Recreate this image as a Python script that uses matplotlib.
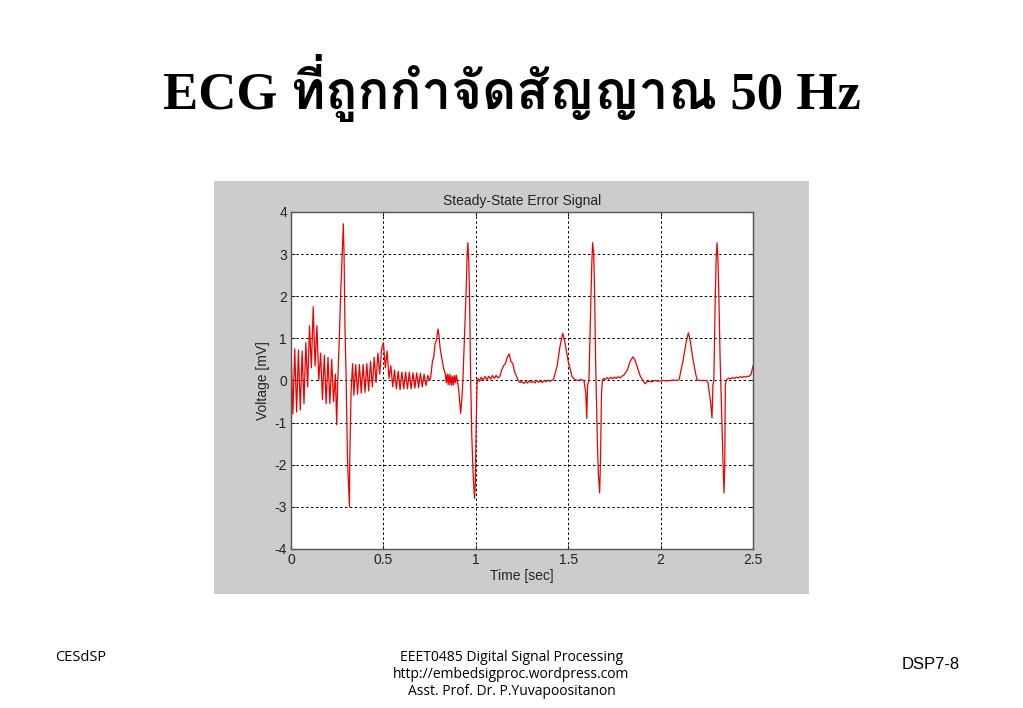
import numpy as np
import matplotlib
matplotlib.use("Agg")
import matplotlib.pyplot as plt
from matplotlib import font_manager
from matplotlib.ft2font import FT2Font
from matplotlib.patches import Rectangle

# ---- data (time in sec, voltage in mV) ----
t_start = [0.00, 0.01, 0.02, 0.03, 0.04, 0.05, 0.06, 0.07, 0.08, 0.09,
           0.10, 0.11, 0.12, 0.13, 0.14, 0.15, 0.16, 0.17, 0.18, 0.19,
           0.20, 0.21, 0.22, 0.23, 0.24, 0.247]
v_start = [0.75, -0.8, 0.75, -0.75, 0.72, -0.7, 0.7, -0.55, 0.9, -0.15,
           1.3, 0.3, 1.75, 0.35, 1.3, 0.0, 0.65, -0.45, 0.6, -0.55,
           0.55, -0.55, 0.5, -0.5, 0.15, -1.05]

t_qrs1 = [0.253, 0.262, 0.268, 0.276, 0.283, 0.287, 0.292, 0.298, 0.305,
          0.316, 0.318, 0.325, 0.333]
v_qrs1 = [0.0, 1.1, 2.0, 2.9, 3.72, 2.95, 1.2, 0.1, -1.8,
          -3.0, -1.8, -0.25, 0.4]

t_mid = [0.34, 0.35, 0.36, 0.37, 0.38, 0.39, 0.40, 0.41, 0.42, 0.43,
         0.44, 0.45, 0.46, 0.47, 0.48, 0.49, 0.50, 0.51, 0.52, 0.53,
         0.54, 0.55, 0.56, 0.57, 0.58, 0.59, 0.60, 0.61, 0.62, 0.63,
         0.64, 0.65, 0.66, 0.67, 0.68, 0.69, 0.70, 0.71, 0.72, 0.73,
         0.74, 0.75]
v_mid = [-0.35, 0.38, -0.33, 0.38, -0.3, 0.38, -0.28, 0.4, -0.25, 0.45,
         -0.15, 0.55, -0.05, 0.65, 0.15, 0.75, 0.9, 0.3, 0.7, 0.05,
         0.35, -0.15, 0.25, -0.2, 0.22, -0.22, 0.2, -0.2, 0.2, -0.2,
         0.2, -0.2, 0.18, -0.18, 0.18, -0.17, 0.17, -0.15, 0.15, -0.12,
         0.12, 0.0]

t_beat2 = [0.755, 0.765, 0.772, 0.78, 0.787, 0.795, 0.80, 0.807, 0.815,
           0.825, 0.835, 0.84, 0.845, 0.85, 0.855, 0.86, 0.865, 0.87,
           0.875, 0.88, 0.885, 0.89, 0.895, 0.90, 0.908, 0.918, 0.925,
           0.93, 0.94, 0.948, 0.953, 0.957, 0.962, 0.966, 0.972, 0.978,
           0.985, 0.993, 0.997, 1.002, 1.007]
v_beat2 = [0.05, 0.45, 0.55, 0.9, 0.95, 1.22, 1.1, 0.75, 0.55,
           0.3, 0.15, -0.05, 0.15, -0.1, 0.15, -0.1, 0.12, -0.12,
           0.1, -0.1, 0.12, -0.05, 0.12, 0.0, -0.25, -0.78, -0.4,
           0.0, 1.2, 2.2, 3.0, 3.27, 2.8, 2.0, 0.0, -1.3,
           -2.2, -2.8, -2.5, -1.0, -0.05]

t_beat3 = [1.012, 1.02, 1.03, 1.04, 1.05, 1.06, 1.07, 1.08, 1.09, 1.10,
           1.11, 1.12, 1.13, 1.14, 1.15, 1.16, 1.17, 1.18, 1.19, 1.20,
           1.21, 1.22, 1.23, 1.24, 1.25, 1.26, 1.27, 1.28, 1.29, 1.30,
           1.31, 1.32, 1.33, 1.34, 1.35, 1.36, 1.37, 1.38, 1.39, 1.40,
           1.41, 1.42, 1.44, 1.455, 1.47, 1.48, 1.50, 1.52, 1.535, 1.55,
           1.57, 1.585, 1.595, 1.60, 1.605, 1.612, 1.62, 1.627, 1.632,
           1.638, 1.643, 1.648, 1.652, 1.658, 1.663, 1.67, 1.675, 1.68,
           1.685]
v_beat3 = [0.05, -0.02, 0.08, 0.0, 0.1, 0.02, 0.1, 0.03, 0.12, 0.05,
           0.12, 0.06, 0.1, 0.25, 0.35, 0.4, 0.55, 0.63, 0.45, 0.4,
           0.2, 0.1, 0.0, -0.05, -0.02, -0.07, -0.02, -0.06, 0.0, -0.05,
           -0.02, -0.06, 0.0, -0.04, -0.01, -0.05, 0.0, -0.03, 0.01, -0.02,
           0.0, 0.02, 0.35, 0.8, 1.12, 0.95, 0.45, 0.1, 0.02, 0.0,
           0.02, 0.0, -0.3, -0.9, -0.1, 0.0, 1.5, 2.7, 3.27,
           3.0, 2.0, 0.5, -0.3, -1.5, -2.2, -2.67, -1.8, -0.3,
           0.0]

t_beat4 = [1.69, 1.70, 1.71, 1.72, 1.73, 1.74, 1.75, 1.76, 1.77, 1.78,
           1.79, 1.80, 1.82, 1.835, 1.85, 1.86, 1.875, 1.89, 1.905, 1.915,
           1.93, 1.95, 1.97, 1.99, 2.01, 2.03, 2.05, 2.07, 2.09, 2.10,
           2.12, 2.14, 2.15, 2.16, 2.175, 2.19, 2.197, 2.21, 2.23, 2.25,
           2.256, 2.27, 2.278, 2.283, 2.288, 2.295, 2.30, 2.305, 2.31,
           2.315, 2.322, 2.327, 2.333, 2.338, 2.343, 2.347, 2.35, 2.355]
v_beat4 = [0.05, 0.02, 0.07, 0.03, 0.08, 0.04, 0.08, 0.05, 0.09, 0.06,
           0.1, 0.12, 0.25, 0.45, 0.56, 0.5, 0.3, 0.1, 0.0, -0.08,
           -0.02, -0.03, 0.0, -0.02, 0.0, -0.01, 0.0, 0.01, 0.0, 0.02,
           0.45, 0.95, 1.13, 0.95, 0.5, 0.15, 0.02, 0.0, 0.0, 0.0,
           -0.05, -0.5, -0.89, -0.1, 0.0, 1.8, 2.8, 3.27, 2.9,
           2.0, 0.5, -0.3, -1.2, -2.0, -2.67, -2.0, -0.1, 0.0]

t_end = [2.36, 2.37, 2.38, 2.39, 2.40, 2.41, 2.42, 2.43, 2.44, 2.45,
         2.46, 2.47, 2.48, 2.49, 2.50]
v_end = [0.03, 0.06, 0.04, 0.07, 0.05, 0.08, 0.06, 0.09, 0.07, 0.1,
         0.08, 0.1, 0.1, 0.15, 0.35]

t = np.concatenate([t_start, t_qrs1, t_mid, t_beat2, t_beat3, t_beat4, t_end])
v = np.concatenate([v_start, v_qrs1, v_mid, v_beat2, v_beat3, v_beat4, v_end])

x_ticks = [0, 0.5, 1, 1.5, 2, 2.5]
x_tick_labels = ["0", "0.5", "1", "1.5", "2", "2.5"]
y_ticks = [-4, -3, -2, -1, 0, 1, 2, 3, 4]


def find_thai_font():
    # look for any installed font that has Thai glyphs
    for f in font_manager.fontManager.ttflist:
        try:
            if 0x0E01 in FT2Font(f.fname).get_charmap():
                return f.name
        except Exception:
            pass
    return None


plt.rcParams["axes.unicode_minus"] = False
thai = find_thai_font()
title_fams = ["Liberation Serif"] + ([thai] if thai else []) + ["DejaVu Sans"]

fig = plt.figure(figsize=(10.23, 7.08), dpi=100)
fig.patch.set_facecolor("white")

# gray matlab figure panel
fig.patches.append(Rectangle((0.2092, 0.161), 0.5816, 0.5833,
                             transform=fig.transFigure, facecolor="#cccccc",
                             edgecolor="none", zorder=-5))

ax = fig.add_axes([0.2845, 0.2246, 0.4516, 0.476])
ax.set_zorder(2)
ax.set_facecolor("white")
ax.plot(t, v, color="#ee0000", lw=0.9)
ax.set_xlim(0, 2.5)
ax.set_ylim(-4, 4)
ax.set_xticks(x_ticks)
ax.set_xticklabels(x_tick_labels)
ax.set_yticks(y_ticks)
ax.grid(True, color="black", linestyle=(0, (2.5, 2.5)), lw=0.7)
ax.tick_params(direction="in", length=3, labelsize=10, colors="#222222",
               top=True, right=True, pad=3)
for lab in ax.get_xticklabels() + ax.get_yticklabels():
    lab.set_family("Liberation Sans")
for s in ax.spines.values():
    s.set_color("#555555")
    s.set_linewidth(1.0)
ax.set_title("Steady-State Error Signal", fontsize=10, family="Liberation Sans",
             color="#222222", pad=5)
ax.set_xlabel("Time [sec]", fontsize=10, family="Liberation Sans", color="#222222",
              labelpad=1)
ax.set_ylabel("Voltage [mV]", fontsize=10, family="Liberation Sans", color="#222222",
              labelpad=3)

# slide title and footer
fig.text(0.5, 0.876, "ECG ที่ถูกกำจัดสัญญาณ 50 Hz", ha="center", va="center",
         fontsize=38, fontweight="bold", family=title_fams)
fig.text(0.054, 0.072, "CESdSP", fontsize=10.5, family="Open Sans", va="center")
fig.text(0.5, 0.071, "EEET0485 Digital Signal Processing", fontsize=10,
         family="Open Sans", ha="center", va="center")
fig.text(0.5, 0.047, "http://embedsigproc.wordpress.com", fontsize=10,
         family="Open Sans", ha="center", va="center")
fig.text(0.5, 0.023, "Asst. Prof. Dr. P.Yuvapoositanon", fontsize=10,
         family="Open Sans", ha="center", va="center")
fig.text(0.91, 0.061, "DSP7-8", fontsize=12, family="Liberation Sans",
         ha="center", va="center")

fig.savefig("out.png", dpi=100)
